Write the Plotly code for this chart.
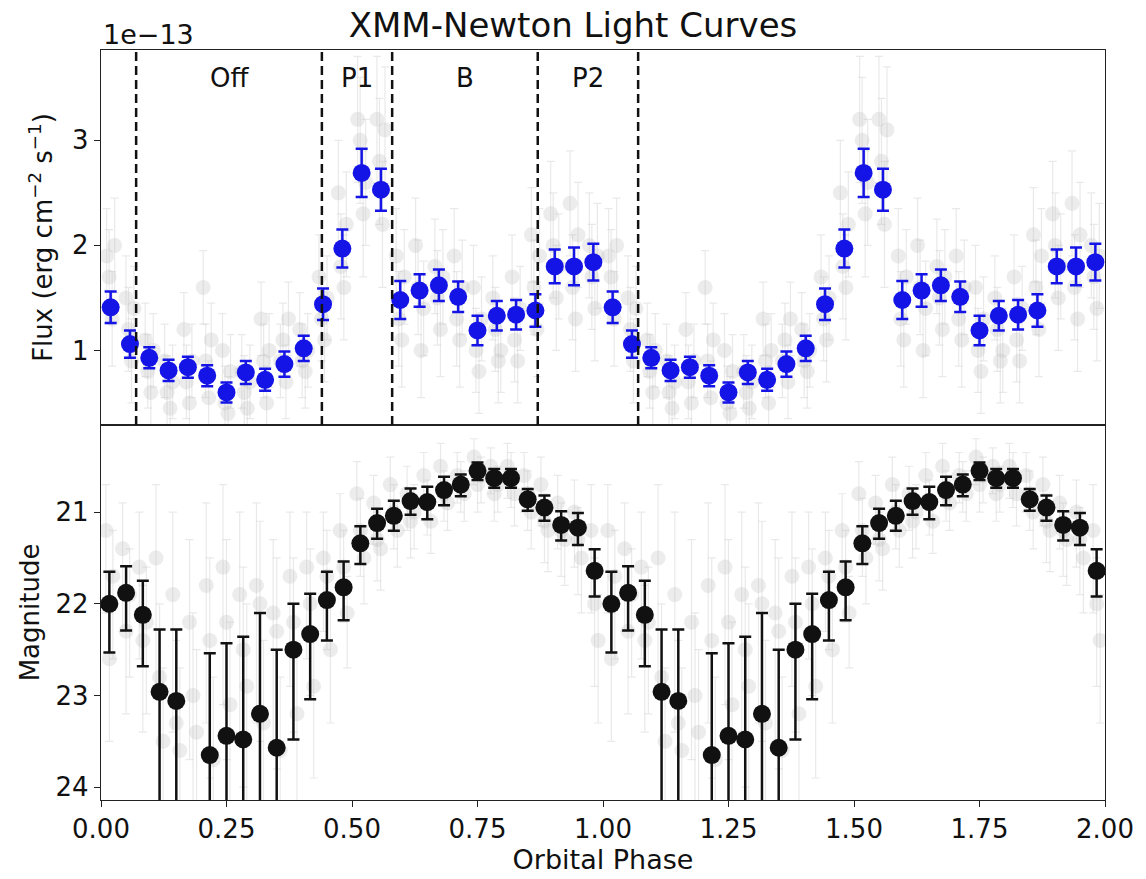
import numpy as np
import plotly.graph_objects as go
from plotly.subplots import make_subplots

# ---------------- data ----------------
# X-ray (XMM-Newton) flux, 26 phase bins per orbit, units of 1e-13 erg cm^-2 s^-1
n_xray_bins = 26
xray_flux = [1.41, 1.06, 0.93, 0.81, 0.84, 0.76, 0.60, 0.79, 0.72, 0.87, 1.02, 1.44,
             1.97, 2.69, 2.53, 1.48, 1.57, 1.62, 1.51, 1.19, 1.33, 1.34, 1.38, 1.80,
             1.80, 1.84]
xray_err = [0.15, 0.13, 0.10, 0.10, 0.10, 0.10, 0.095, 0.11, 0.105, 0.12, 0.12, 0.15,
            0.18, 0.23, 0.20, 0.18, 0.155, 0.15, 0.145, 0.14, 0.14, 0.14, 0.155, 0.16,
            0.18, 0.175]

# individual (background) X-ray light curves
xray_grey_a = [1.90, 1.50, 1.10, 0.90, 1.20, 1.60, 1.00, 0.80, 1.30, 0.90, 1.20, 1.70,
               2.50, 3.20, 3.20, 1.90, 2.00, 1.80, 1.90, 1.60, 1.50, 1.70, 2.10, 2.30,
               2.40, 2.00]
xray_grey_b = [1.70, 1.20, 0.80, 0.60, 0.70, 0.90, 0.50, 0.60, 0.90, 1.10, 0.90, 1.30,
               1.80, 3.00, 2.80, 1.30, 1.60, 1.50, 1.30, 1.00, 1.20, 1.10, 1.60, 2.00,
               1.60, 1.70]
xray_grey_c = [1.30, 0.90, 0.60, 0.45, 0.50, 0.55, 0.40, 0.45, 0.50, 0.70, 0.80, 1.10,
               1.60, 2.30, 2.20, 1.10, 1.00, 1.20, 1.10, 0.80, 0.90, 0.90, 1.20, 1.50,
               1.30, 1.40]
xray_grey_d = [2.00, 1.40, 1.00, 0.70, 0.90, 1.10, 0.80, 0.70, 1.00, 1.30, 1.00, 1.50,
               2.20, 2.60, 3.10, 1.70, 1.40, 1.70, 1.60, 1.30, 1.00, 1.40, 1.90, 1.80,
               2.10, 1.90]
xray_grey_err = [0.45, 0.40, 0.35, 0.35, 0.35, 0.35, 0.35, 0.35, 0.35, 0.35, 0.35, 0.40,
                 0.50, 0.60, 0.60, 0.45, 0.45, 0.45, 0.45, 0.40, 0.40, 0.40, 0.45, 0.50,
                 0.50, 0.50]
xray_grey_shift = [-0.008, -0.003, 0.003, 0.008]

# optical magnitudes, 30 phase bins per orbit
n_opt_bins = 30
opt_mag = [22.00, 21.88, 22.12, 22.96, 23.06, None, 23.65, 23.44, 23.48, 23.20,
           23.57, 22.50, 22.33, 21.96, 21.82, 21.34, 21.12, 21.04, 20.88, 20.89,
           20.76, 20.70, 20.55, 20.63, 20.63, 20.86, 20.95, 21.14, 21.17, 21.64]
opt_err_bright = [0.35, 0.29, 0.37, 0.68, 0.78, 0.0, 1.11, 1.01, 1.12, 1.10,
                  1.07, 0.50, 0.44, 0.31, 0.28, 0.185, 0.156, 0.164, 0.138, 0.167,
                  0.145, 0.11, 0.09, 0.10, 0.10, 0.113, 0.13, 0.15, 0.16, 0.236]
opt_err_faint = [0.53, 0.41, 0.56, 2.0, 2.0, 0.0, 2.0, 2.0, 2.0, 2.0,
                 2.0, 0.98, 0.71, 0.44, 0.36, 0.225, 0.17, 0.164, 0.149, 0.189,
                 0.164, 0.127, 0.10, 0.105, 0.105, 0.124, 0.145, 0.17, 0.19, 0.28]

opt_grey_a = [21.2, 21.4, 21.6, 21.5, 21.9, 22.2, 21.8, 21.6, 21.9, 21.8, 22.1, 21.7,
              21.6, 21.5, 21.2, 20.8, 20.9, 20.7, 20.8, 20.6, 20.5, 20.6, 20.4, 20.5,
              20.5, 20.6, 20.7, 20.9, 21.0, 21.2]
opt_grey_b = [22.6, 22.3, 22.4, 22.8, 23.3, 23.0, 22.4, 22.2, 22.5, 22.0, 22.3, 22.2,
              22.0, 21.7, 21.6, 21.2, 21.3, 21.0, 21.1, 20.9, 20.8, 20.7, 20.7, 20.8,
              20.6, 20.8, 21.1, 21.2, 21.3, 22.0]
opt_grey_c = [21.7, 21.9, 22.2, 23.5, 23.6, 23.4, 23.7, 23.1, 22.9, 23.3, 23.6, 23.2,
              22.9, 22.5, 22.1, 21.5, 21.4, 21.2, 21.0, 21.1, 20.9, 20.8, 20.6, 20.7,
              20.8, 21.0, 21.2, 21.3, 21.5, 22.4]
opt_grey_err_bright = [0.5, 0.5, 0.6, 0.8, 0.9, 0.9, 0.9, 0.9, 0.9, 0.9, 0.8, 0.7, 0.6, 0.5,
                       0.4, 0.35, 0.3, 0.3, 0.3, 0.25, 0.25, 0.25, 0.2, 0.2, 0.25, 0.25,
                       0.3, 0.3, 0.35, 0.5]
opt_grey_err_faint = [0.9, 0.9, 1.0, 1.5, 1.5, 1.5, 1.5, 1.5, 1.5, 1.5, 1.5, 1.2, 1.0, 0.8,
                      0.6, 0.5, 0.45, 0.4, 0.4, 0.35, 0.3, 0.3, 0.3, 0.3, 0.35, 0.4, 0.45,
                      0.5, 0.6, 0.9]
opt_grey_shift = [-0.007, 0.0, 0.007]

# region boundaries (orbital phase) and labels
region_edges = [0.07, 0.44, 0.58, 0.87, 1.07]
region_labels = ["Off", "P1", "B", "P2"]

x_ticks = [0.0, 0.25, 0.5, 0.75, 1.0, 1.25, 1.5, 1.75, 2.0]
flux_ticks = [1, 2, 3]
mag_ticks = [21, 22, 23, 24]

# ---------------- helpers ----------------
def two_cycles(values):
    return list(values) + list(values)

def phases(nbins, shift=0.0):
    p = (np.arange(nbins) + 0.5) / nbins + shift
    return np.concatenate([p, p + 1.0])

FONT = "DejaVu Sans"
GREY = "rgba(185,185,185,0.28)"
GREY_BAR = "rgba(200,200,200,0.40)"

fig = make_subplots(rows=2, cols=1, shared_xaxes=True, vertical_spacing=0.0)

# top panel: grey individual curves
for series, sh in zip([xray_grey_a, xray_grey_b, xray_grey_c, xray_grey_d], xray_grey_shift):
    fig.add_trace(go.Scatter(
        x=phases(n_xray_bins, sh), y=two_cycles(series), mode="markers",
        marker=dict(size=15, color=GREY, line=dict(width=0)),
        error_y=dict(type="data", array=two_cycles(xray_grey_err), color=GREY_BAR,
                     thickness=1.2, width=4),
        showlegend=False, hoverinfo="skip"), row=1, col=1)

fig.add_trace(go.Scatter(
    x=phases(n_xray_bins), y=two_cycles(xray_flux), mode="markers",
    marker=dict(size=18, color="#1414e6", line=dict(width=0)),
    error_y=dict(type="data", array=two_cycles(xray_err), color="#1414e6",
                 thickness=2.5, width=6),
    showlegend=False), row=1, col=1)

# bottom panel: grey individual curves
for series, sh in zip([opt_grey_a, opt_grey_b, opt_grey_c], opt_grey_shift):
    fig.add_trace(go.Scatter(
        x=phases(n_opt_bins, sh), y=two_cycles(series), mode="markers",
        marker=dict(size=15, color=GREY, line=dict(width=0)),
        error_y=dict(type="data", symmetric=False,
                     array=two_cycles(opt_grey_err_faint),
                     arrayminus=two_cycles(opt_grey_err_bright),
                     color=GREY_BAR, thickness=1.2, width=4),
        showlegend=False, hoverinfo="skip"), row=2, col=1)

fig.add_trace(go.Scatter(
    x=phases(n_opt_bins), y=two_cycles(opt_mag), mode="markers",
    marker=dict(size=18, color="#111111", line=dict(width=0)),
    error_y=dict(type="data", symmetric=False, array=two_cycles(opt_err_faint),
                 arrayminus=two_cycles(opt_err_bright), color="#111111",
                 thickness=2.5, width=6),
    showlegend=False), row=2, col=1)

# dashed region boundaries in top panel
for xe in region_edges:
    fig.add_shape(type="line", x0=xe, x1=xe, y0=0, y1=1, xref="x", yref="y domain",
                  line=dict(color="#111111", width=2.5, dash="9px,5px"))

for i, lab in enumerate(region_labels):
    xc = 0.5 * (region_edges[i] + region_edges[i + 1])
    fig.add_annotation(x=xc, y=0.925, xref="x", yref="y domain", text=lab,
                       showarrow=False, xanchor="center", yanchor="middle",
                       font=dict(family=FONT, size=26, color="#111"))

# offset text
fig.add_annotation(x=0, y=1.0, xref="x domain", yref="y domain", text="1e\u221213",
                   showarrow=False, xanchor="left", yanchor="bottom", yshift=-2,
                   font=dict(family=FONT, size=27, color="#111"))

axis_common = dict(showline=True, linecolor="#222", linewidth=1.3, mirror=True,
                   showgrid=False, zeroline=False, ticks="outside", ticklen=6,
                   tickwidth=1.3, tickcolor="#222",
                   tickfont=dict(family=FONT, size=26, color="#111"))

fig.update_xaxes(range=[0, 2], tickvals=x_ticks, tickformat=".2f", **axis_common)
fig.update_xaxes(showticklabels=False, ticks="", row=1, col=1)
fig.update_xaxes(title=dict(text="Orbital Phase", font=dict(family=FONT, size=27, color="#111"),
                            standoff=2), row=2, col=1)

fig.update_yaxes(range=[0.29, 3.86], tickvals=flux_ticks, row=1, col=1,
                 title=dict(text="Flux (erg cm<sup>\u22122</sup> s<sup>\u22121</sup>)",
                            font=dict(family=FONT, size=26, color="#111"), standoff=12),
                 **axis_common)
fig.update_yaxes(range=[24.14, 20.05], tickvals=mag_ticks, row=2, col=1,
                 title=dict(text="Magnitude", font=dict(family=FONT, size=26, color="#111"),
                            standoff=8),
                 **axis_common)

fig.update_layout(
    width=1146, height=879,
    margin=dict(l=101, r=36, t=50, b=79),
    paper_bgcolor="white", plot_bgcolor="white",
    title=dict(text="XMM-Newton Light Curves", x=0.5, xref="container",
               y=1 - 25 / 879, yref="container", xanchor="center", yanchor="middle",
               font=dict(family=FONT, size=34, color="#111")),
)

fig.write_html("out.html", config={"displayModeBar": False},
               post_script="document.body.style.margin='0';")
